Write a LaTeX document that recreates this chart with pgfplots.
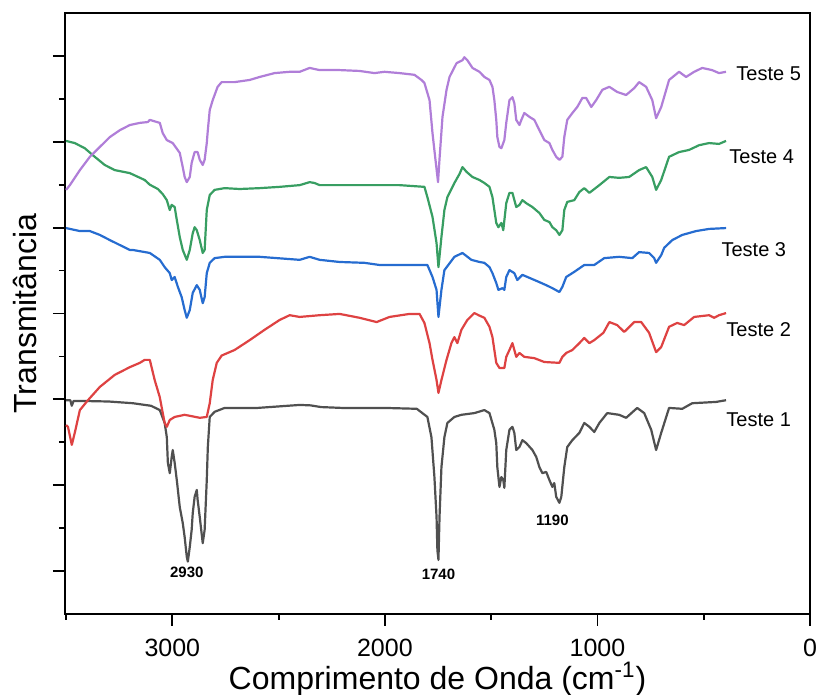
\documentclass[border=0pt]{standalone}
\usepackage{pgfplots}
\pgfplotsset{compat=1.18}
\usepackage{fontspec}
\setmainfont{Liberation Sans}
\definecolor{cgray}{RGB}{80,80,80}
\definecolor{cred}{RGB}{222,66,66}
\definecolor{cblue}{RGB}{38,108,208}
\definecolor{cgreen}{RGB}{56,158,98}
\definecolor{cpurple}{RGB}{176,126,216}
\begin{document}
\begin{tikzpicture}
\begin{axis}[
  scale only axis, width=372.5pt, height=300.5pt,
  xmin=0, xmax=3505, x dir=reverse, ymin=0, ymax=14,
  axis lines=box,
  xtick={0,1000,2000,3000}, xticklabels={0,1000,2000,3000},
  minor xtick={500,1500,2500,3500},
  ytick={1,3,5,7,9,11,13}, yticklabels={}, minor ytick={2,4,6,8,10,12},
  tick align=outside, xtick pos=bottom, ytick pos=left,
  major tick length=6pt, minor tick length=3pt,
  axis line style={line width=1.2pt, black},
  every tick/.style={black, line width=0.9pt},
  ticklabel style={font=\fontsize{12.5}{14}\selectfont},
  xticklabel style={yshift=-3pt},
  xlabel={Comprimento de Onda (cm\textsuperscript{-1})},
  ylabel={Transmitância},
  label style={font=\fontsize{16}{18}\selectfont},
  xlabel style={at={(axis description cs:0.5,0)}, anchor=center, yshift=-32.5pt},
  ylabel style={at={(axis description cs:-0.054,0.5)}, anchor=center},
  every axis plot/.append style={line width=1.1pt, line join=round},
  clip=false,
]
\draw[line width=1.2pt, black] (rel axis cs:0,0) -- (rel axis cs:0,1) -- (rel axis cs:1,1) -- (rel axis cs:1,0) -- cycle;
% Teste 1
\addplot[cgray] coordinates {
(3500,4.98)(3480,4.98)(3473,4.85)(3465,4.96)(3400,4.96)(3300,4.95)(3186,4.91)(3100,4.85)
(3059,4.75)(3036,4.45)(3026,4.12)(3021,3.52)(3012,3.28)(3003,3.66)(2998,3.82)(2989,3.52)
(2979,3.12)(2965,2.49)(2951,2.12)(2942,1.79)(2932,1.33)(2927,1.22)(2918,1.56)(2909,1.96)
(2904,2.35)(2895,2.73)(2885,2.89)(2881,2.66)(2871,2.26)(2857,1.65)(2848,1.96)(2838,3.12)
(2833,3.89)(2824,4.59)(2801,4.71)(2754,4.80)(2600,4.80)(2401,4.87)(2350,4.86)
(2300,4.82)(2200,4.80)(2000,4.80)(1850,4.78)(1800,4.59)(1781,4.12)(1767,3.19)(1757,2.26)
(1753,1.49)(1748,1.26)(1743,2.26)(1734,3.42)(1720,4.12)(1706,4.45)(1673,4.59)(1640,4.64)
(1579,4.68)(1532,4.75)(1508,4.68)(1485,4.29)(1476,3.98)(1471,3.42)(1461,2.96)(1452,3.19)
(1443,3.12)(1438,2.94)(1429,3.82)(1414,4.29)(1400,4.36)(1391,4.22)(1382,3.82)(1367,3.89)
(1353,4.05)(1335,3.98)(1306,3.82)(1288,3.66)(1273,3.42)(1259,3.28)(1241,3.31)(1226,3.12)
(1212,2.96)(1203,3.05)(1194,2.73)(1179,2.59)(1170,2.73)(1156,3.42)(1142,3.89)(1118,4.05)
(1085,4.22)(1062,4.45)(1038,4.36)(1015,4.24)(991,4.45)(954,4.68)(898,4.64)(865,4.57)
(813,4.80)(780,4.68)(747,4.29)(724,3.82)(700,4.22)(663,4.80)(601,4.78)(554,4.91)(442,4.94)
(395,4.98)
};
% Teste 2
\addplot[cred] coordinates {
(3500,4.40)(3491,4.36)(3473,3.94)(3459,4.22)(3435,4.75)(3397,4.98)(3341,5.29)(3271,5.57)
(3200,5.75)(3153,5.85)(3130,5.92)(3106,5.92)(3083,5.45)(3059,5.05)(3045,4.68)(3036,4.45)
(3026,4.36)(3012,4.52)(2989,4.59)(2942,4.64)(2871,4.57)(2838,4.59)(2824,4.91)(2810,5.45)
(2791,5.85)(2768,6.02)(2707,6.15)(2636,6.38)(2566,6.62)(2495,6.85)(2448,6.96)
(2401,6.92)(2307,6.96)(2213,6.99)(2119,6.90)(2039,6.80)(1978,6.92)(1884,6.99)(1837,6.99)
(1814,6.78)(1790,6.31)(1776,5.92)(1757,5.45)(1748,5.15)(1734,5.45)(1710,5.92)(1687,6.31)
(1673,6.45)(1659,6.31)(1640,6.62)(1612,6.85)(1579,7.01)(1555,6.95)(1532,6.90)(1508,6.69)
(1494,6.45)(1485,6.15)(1476,5.85)(1461,5.73)(1438,5.73)(1429,5.99)(1414,6.15)(1400,6.31)
(1391,6.15)(1382,5.99)(1367,6.08)(1344,5.99)(1297,5.96)(1250,5.87)(1179,5.85)(1165,5.99)
(1147,6.08)(1118,6.15)(1085,6.31)(1062,6.43)(1038,6.31)(1015,6.38)(972,6.55)(944,6.80)
(907,6.73)(874,6.57)(827,6.80)(794,6.80)(757,6.55)(724,6.10)(700,6.22)(663,6.69)(625,6.78)
(592,6.73)(545,6.92)(475,6.96)(451,6.90)(428,6.96)(395,7.01)
};
% Teste 3
\addplot[cblue] coordinates {
(3500,8.99)(3435,8.92)(3388,8.92)(3341,8.83)(3294,8.71)(3200,8.48)(3186,8.48)(3106,8.41)
(3059,8.25)(3036,8.08)(3012,7.94)(3003,7.78)(2989,7.85)(2974,7.62)(2956,7.38)(2942,7.08)
(2932,6.90)(2918,7.08)(2904,7.48)(2885,7.66)(2871,7.55)(2857,7.24)(2848,7.38)(2838,7.94)
(2824,8.18)(2801,8.29)(2754,8.32)(2683,8.32)(2589,8.32)(2401,8.25)(2354,8.32)(2307,8.25)
(2213,8.20)(2096,8.18)(2025,8.13)(1931,8.13)(1837,8.13)(1800,8.13)(1776,7.85)(1757,7.55)
(1748,6.92)(1734,7.55)(1720,8.01)(1673,8.32)(1635,8.41)(1593,8.25)(1555,8.20)(1532,8.18)
(1508,8.08)(1494,7.94)(1476,7.71)(1466,7.55)(1447,7.59)(1438,7.55)(1429,7.85)(1414,8.01)
(1391,7.94)(1377,7.78)(1353,7.90)(1320,7.83)(1273,7.73)(1241,7.66)(1212,7.59)(1179,7.50)
(1165,7.62)(1147,7.85)(1109,7.97)(1062,8.13)(1015,8.13)(968,8.29)(898,8.32)(836,8.29)
(804,8.43)(757,8.41)(733,8.29)(724,8.18)(700,8.36)(686,8.53)(648,8.71)(601,8.83)(536,8.92)
(475,8.97)(395,8.99)
};
% Teste 4
\addplot[cgreen] coordinates {
(3500,11.02)(3459,10.97)(3412,10.85)(3365,10.65)(3318,10.46)(3271,10.34)(3200,10.27)
(3130,10.11)(3106,10.0)(3068,9.90)(3045,9.78)(3026,9.64)(3012,9.41)(3003,9.53)(2989,9.48)
(2979,9.18)(2965,8.78)(2951,8.48)(2932,8.25)(2918,8.48)(2904,8.87)(2895,9.01)(2885,8.94)
(2871,8.71)(2857,8.41)(2848,8.48)(2838,9.41)(2824,9.76)(2801,9.88)(2754,9.92)(2683,9.90)
(2589,9.92)(2495,9.95)(2401,9.99)(2354,10.06)(2331,10.04)(2307,9.99)(2166,9.99)(1931,9.99)
(1814,9.95)(1800,9.71)(1776,9.25)(1757,8.64)(1748,8.08)(1734,8.78)(1720,9.41)(1706,9.71)
(1673,10.04)(1649,10.25)(1635,10.41)(1616,10.30)(1588,10.18)(1555,10.11)(1532,10.04)
(1508,9.95)(1494,9.71)(1485,9.41)(1476,9.11)(1466,9.01)(1452,9.11)(1443,8.94)(1429,9.57)
(1414,9.81)(1400,9.81)(1382,9.48)(1367,9.53)(1353,9.64)(1335,9.57)(1306,9.48)(1273,9.34)
(1250,9.18)(1226,9.13)(1212,9.01)(1194,8.94)(1179,8.83)(1165,8.94)(1156,9.41)(1142,9.60)
(1109,9.64)(1085,9.83)(1062,9.92)(1038,9.81)(991,9.99)(944,10.18)(898,10.16)(851,10.18)
(804,10.34)(771,10.41)(742,10.18)(724,9.88)(700,10.11)(663,10.65)(616,10.76)(569,10.81)
(522,10.92)(475,10.97)(428,10.95)(395,11.02)
};
% Teste 5
\addplot[cpurple] coordinates {
(3500,9.88)(3482,9.99)(3435,10.34)(3388,10.65)(3341,10.88)(3294,11.11)(3247,11.27)(3200,11.39)
(3153,11.44)(3115,11.46)(3106,11.51)(3059,11.44)(3045,11.20)(3026,11.04)(2998,10.97)
(2965,10.74)(2951,10.41)(2942,10.18)(2932,10.06)(2918,10.18)(2909,10.51)(2895,10.76)
(2881,10.76)(2871,10.58)(2857,10.46)(2848,10.58)(2838,10.97)(2833,11.27)(2824,11.74)
(2810,11.97)(2787,12.28)(2768,12.39)(2707,12.39)(2636,12.44)(2589,12.51)(2519,12.60)
(2448,12.63)(2401,12.63)(2354,12.72)(2307,12.67)(2213,12.67)(2119,12.65)(2049,12.60)
(2002,12.63)(1931,12.60)(1861,12.56)(1828,12.44)(1814,12.37)(1790,11.97)(1776,11.20)
(1762,10.58)(1750,10.06)(1743,10.6)(1729,11.58)(1710,12.21)(1696,12.51)(1663,12.83)
(1635,12.90)(1626,12.97)(1612,12.90)(1588,12.72)(1555,12.63)(1532,12.51)(1508,12.44)
(1494,12.28)(1485,11.97)(1476,11.51)(1471,11.11)(1461,10.88)(1452,10.85)(1438,11.04)
(1429,11.44)(1414,11.97)(1400,12.04)(1391,11.90)(1382,11.51)(1367,11.39)(1358,11.51)
(1344,11.67)(1320,11.58)(1297,11.51)(1273,11.27)(1250,11.04)(1226,10.97)(1212,10.81)
(1194,10.65)(1179,10.58)(1165,10.65)(1156,11.11)(1142,11.51)(1118,11.67)(1095,11.81)
(1071,12.02)(1053,12.02)(1029,11.81)(1006,11.97)(977,12.21)(944,12.28)(907,12.16)(865,12.09)
(827,12.25)(804,12.39)(771,12.28)(742,11.97)(724,11.55)(700,11.81)(663,12.44)(616,12.63)
(583,12.51)(545,12.63)(507,12.72)(461,12.67)(428,12.60)(395,12.63)
};
\begin{scope}[every node/.style={font=\fontsize{10}{12}\selectfont, anchor=west, inner sep=0pt}]
\node at (axis cs:348,12.58) {Teste 5};
\node at (axis cs:381,10.65) {Teste 4};
\node at (axis cs:418,8.48) {Teste 3};
\node at (axis cs:395,6.62) {Teste 2};
\node at (axis cs:395,4.52) {Teste 1};
\end{scope}
\begin{scope}[every node/.style={font=\bfseries\fontsize{7.5}{9}\selectfont, inner sep=0pt}]
\node at (axis cs:2932,0.98) {2930};
\node at (axis cs:1748,0.93) {1740};
\node at (axis cs:1212,2.19) {1190};
\end{scope}
\end{axis}
\pgfresetboundingbox
\useasboundingbox (-32.5pt,-40.5pt) rectangle (377pt,307pt);
\end{tikzpicture}
\end{document}
